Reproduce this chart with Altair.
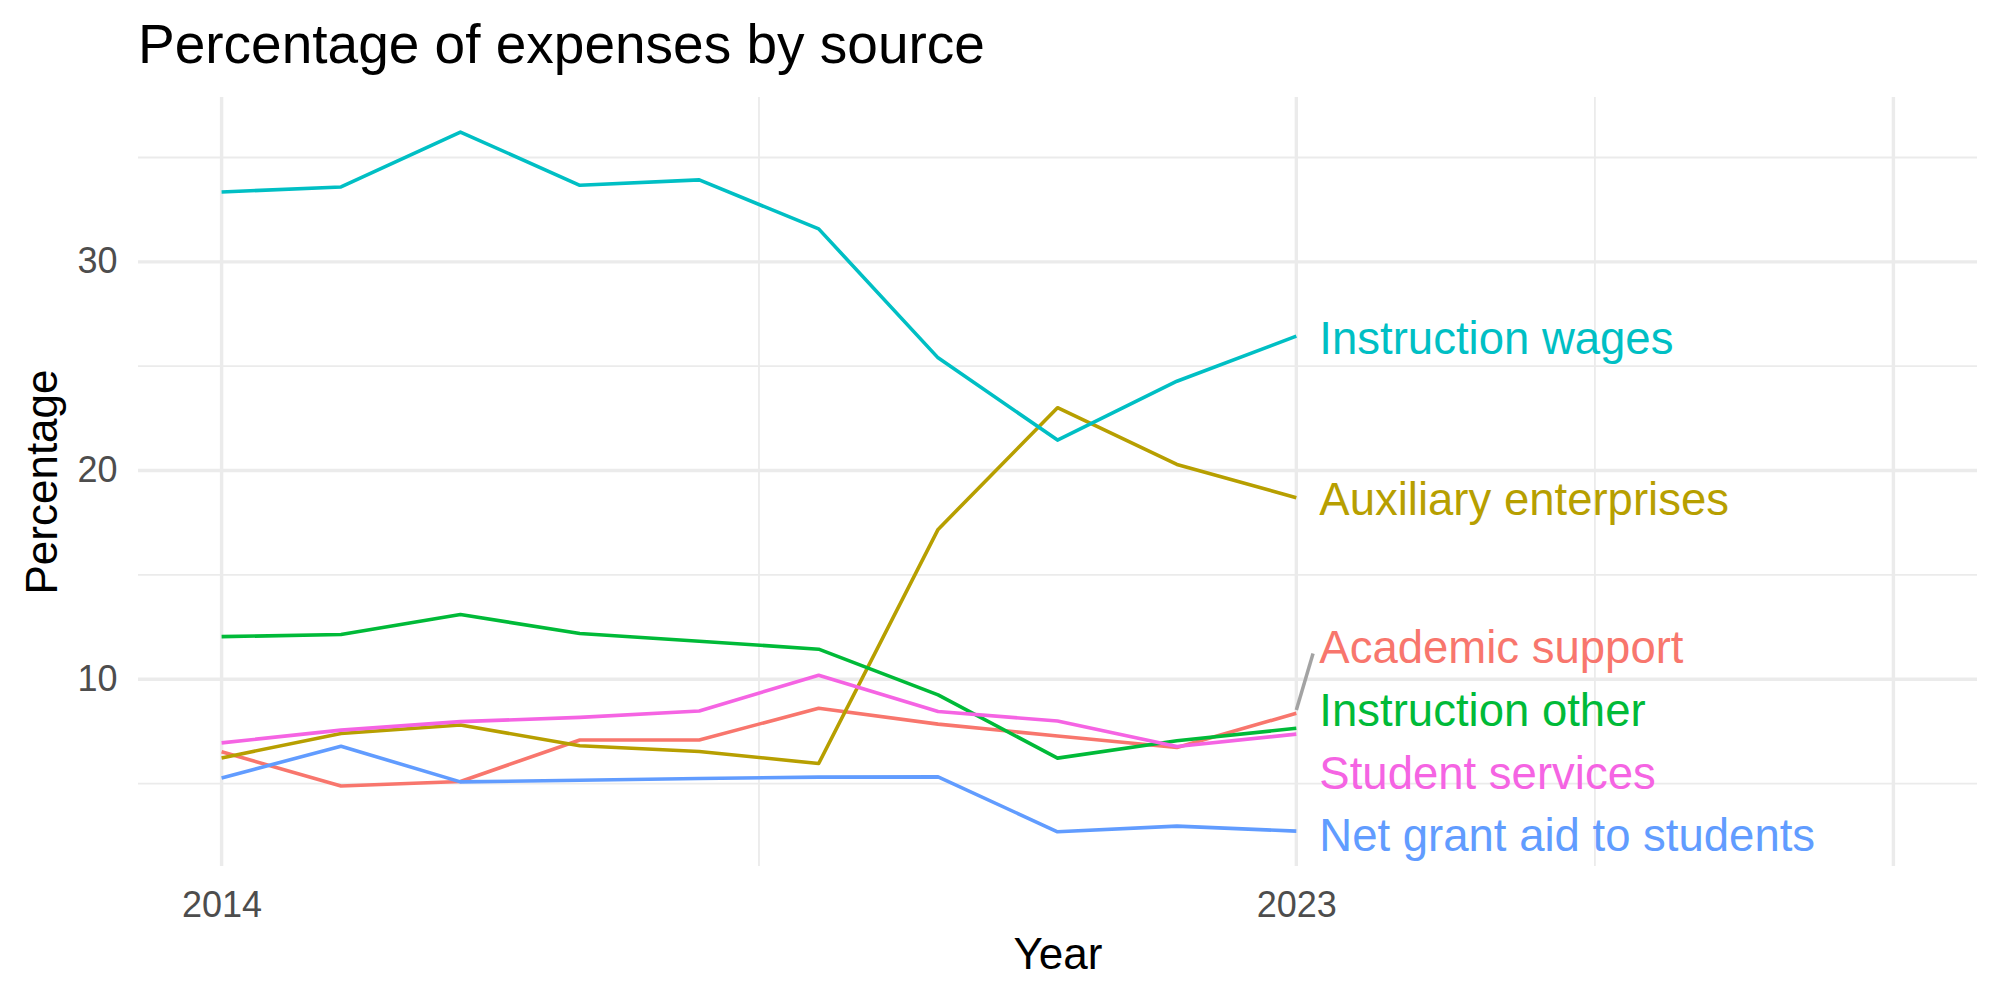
import altair as alt
import pandas as pd

# ---- data -------------------------------------------------------------
years = list(range(2014, 2024))

categories = [
    "Academic support",
    "Auxiliary enterprises",
    "Instruction other",
    "Instruction wages",
    "Net grant aid to students",
    "Student services",
]
colors = ["#F8766D", "#B79F00", "#00BA38", "#00BFC4", "#619CFF", "#F564E3"]

academic_support = [6.52, 4.88, 5.10, 7.09, 7.09, 8.61, 7.85, 7.28, 6.73, 8.37]
auxiliary_enterprises = [6.23, 7.40, 7.81, 6.81, 6.54, 5.96, 17.18, 23.01, 20.29, 18.70]
instruction_other = [12.04, 12.14, 13.10, 12.19, 11.82, 11.44, 9.25, 6.22, 7.05, 7.65]
instruction_wages = [33.35, 33.59, 36.22, 33.67, 33.93, 31.58, 25.40, 21.46, 24.28, 26.44]
net_grant_aid = [5.27, 6.79, 5.08, 5.16, 5.24, 5.31, 5.32, 2.69, 2.96, 2.72]
student_services = [6.95, 7.56, 7.97, 8.17, 8.48, 10.19, 8.45, 8.00, 6.78, 7.37]

series = [
    academic_support,
    auxiliary_enterprises,
    instruction_other,
    instruction_wages,
    net_grant_aid,
    student_services,
]

# vertical shift of each end label after repelling overlapping labels
label_shift = [3.25, 0.0, 0.95, 0.0, -0.13, -1.79]

# axis breaks and grid positions
x_breaks = [2014, 2023]
x_major_grid = [2014, 2023, 2028]
x_minor_grid = [2018.5, 2025.5]
y_breaks = [10, 20, 30]
y_minor_grid = [5, 15, 25, 35]

# ---- tables -------------------------------------------------------------
long_rows = []
for cat, vals in zip(categories, series):
    for yr, v in zip(years, vals):
        long_rows.append({"Year": yr, "source": cat, "Percentage": v})
df = pd.DataFrame(long_rows)

label_df = pd.DataFrame(
    {
        "Year": [years[-1]] * len(categories),
        "source": categories,
        "Percentage": [vals[-1] + s for vals, s in zip(series, label_shift)],
    }
)

# leader line joining the displaced "Academic support" label to its point
acad_last = academic_support[-1]
acad_label = acad_last + label_shift[0]
leader_df = pd.DataFrame(
    {
        "Year": [years[-1]],
        "Year2": [years[-1] + 0.14],
        "Percentage": [acad_last + 0.16],
        "Percentage2": [acad_label - 0.39],
    }
)

major_y_df = pd.DataFrame({"Percentage": y_breaks})
minor_y_df = pd.DataFrame({"Percentage": y_minor_grid})
major_x_df = pd.DataFrame({"Year": x_major_grid})
minor_x_df = pd.DataFrame({"Year": x_minor_grid})

# ---- scales and axes ---------------------------------------------------
FONT = "Liberation Sans"
GRID = "#EBEBEB"
W, H = 1839, 769

x_scale = alt.Scale(domain=[2013.3, 2028.7], nice=False, zero=False)
y_scale = alt.Scale(domain=[1.05, 37.9], nice=False, zero=False)
color_scale = alt.Scale(domain=categories, range=colors)

x_axis = alt.Axis(
    values=x_breaks,
    format="d",
    grid=False,
    ticks=False,
    tickSize=0,
    domain=False,
    labelFlush=False,
    labelFont=FONT,
    labelFontSize=36,
    labelColor="#4D4D4D",
    labelPadding=50,
    labelBaseline="alphabetic",
    title="Year",
    titleFont=FONT,
    titleFontSize=44,
    titleFontWeight="normal",
    titleColor="black",
    titleBaseline="alphabetic",
    titleX=W / 2,
    titleY=102,
)
y_axis = alt.Axis(
    values=y_breaks,
    grid=False,
    ticks=False,
    tickSize=0,
    domain=False,
    labelFont=FONT,
    labelFontSize=36,
    labelColor="#4D4D4D",
    labelPadding=21,
    title="Percentage",
    titleFont=FONT,
    titleFontSize=44,
    titleFontWeight="normal",
    titleColor="black",
    titleAngle=270,
    titleBaseline="alphabetic",
    titleAlign="center",
    titleX=-82,
    titleY=H / 2,
)

X = alt.X("Year:Q", scale=x_scale, axis=x_axis)
Y = alt.Y("Percentage:Q", scale=y_scale, axis=y_axis)

# ---- grid -------------------------------------------------------------
grid_minor_h = alt.Chart(minor_y_df).mark_rule(color=GRID, strokeWidth=1.8).encode(y=Y)
grid_major_h = alt.Chart(major_y_df).mark_rule(color=GRID, strokeWidth=3.4).encode(y=Y)
grid_minor_v = alt.Chart(minor_x_df).mark_rule(color=GRID, strokeWidth=1.8).encode(x=X)
grid_major_v = alt.Chart(major_x_df).mark_rule(color=GRID, strokeWidth=3.4).encode(x=X)

# ---- series -------------------------------------------------------------
lines = alt.Chart(df).mark_line(strokeWidth=3.6, strokeJoin="round").encode(
    x=X,
    y=Y,
    color=alt.Color("source:N", scale=color_scale, legend=None),
    detail="source:N",
)

labels = alt.Chart(label_df).mark_text(
    align="left", baseline="alphabetic", dx=23, dy=17.5, fontSize=45.5, font=FONT
).encode(
    x=X,
    y=Y,
    text="source:N",
    color=alt.Color("source:N", scale=color_scale, legend=None),
)

leader = alt.Chart(leader_df).mark_rule(color="#A3A3A3", strokeWidth=3.5).encode(
    x=X,
    x2="Year2:Q",
    y=Y,
    y2="Percentage2:Q",
)

chart = (
    alt.layer(
        grid_minor_h,
        grid_minor_v,
        grid_major_h,
        grid_major_v,
        lines,
        leader,
        labels,
    )
    .properties(
        width=W,
        height=H,
        title=alt.TitleParams(
            "Percentage of expenses by source",
            anchor="start",
            frame="group",
            font=FONT,
            fontSize=55,
            fontWeight="normal",
            color="black",
            baseline="alphabetic",
            offset=-23,
        ),
        autosize=alt.AutoSizeParams(type="none"),
        padding={"left": 138, "top": 97, "right": 23, "bottom": 134},
        background="white",
    )
    .configure_view(stroke=None)
)

chart.save("out.html", embed_options={"renderer": "svg", "actions": False})
